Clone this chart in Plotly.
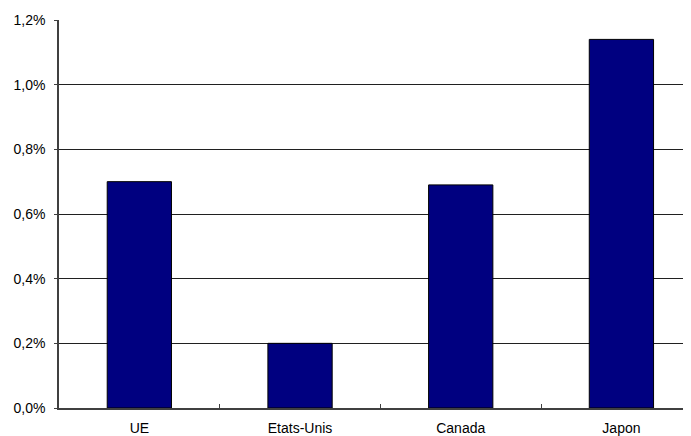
import plotly.graph_objects as go

categories = ["UE", "Etats-Unis", "Canada", "Japon"]
values = [0.0070, 0.0020, 0.0069, 0.0114]
y_ticks = [0, 0.002, 0.004, 0.006, 0.008, 0.010, 0.012]

fig = go.Figure()
fig.add_trace(go.Bar(
    x=categories, y=values,
    width=0.4,
    marker=dict(color="#000080", line=dict(color="#000000", width=1)),
))

# page body has an 8px default margin, so the figure is sized to fit the window
fig.update_layout(
    width=683, height=428,
    margin=dict(l=51, r=0, t=12, b=28, autoexpand=False),
    paper_bgcolor="white", plot_bgcolor="white",
    separators=", ",
    showlegend=False,
    font=dict(family="Liberation Sans, Arial", size=14, color="black"),
)
fig.update_xaxes(
    type="category",
    range=[-0.5, 3.433],
    automargin=False,
    showgrid=False,
    showline=True, linecolor="#404040", linewidth=1.5,
    ticks="inside", tickson="boundaries", ticklen=4, tickcolor="#404040",
    ticklabelstandoff=6,
    tickfont=dict(size=14, color="black"),
)
fig.update_yaxes(
    range=[0, 0.012],
    automargin=False,
    tickvals=y_ticks,
    tickformat=".1%",
    showgrid=True, gridcolor="#202020", gridwidth=1,
    showline=True, linecolor="#404040", linewidth=1.5,
    ticks="outside", ticklen=3, tickcolor="#404040",
    ticklabelstandoff=6,
    tickfont=dict(size=14, color="black"),
    zeroline=False,
)

fig.write_html("out.html")
